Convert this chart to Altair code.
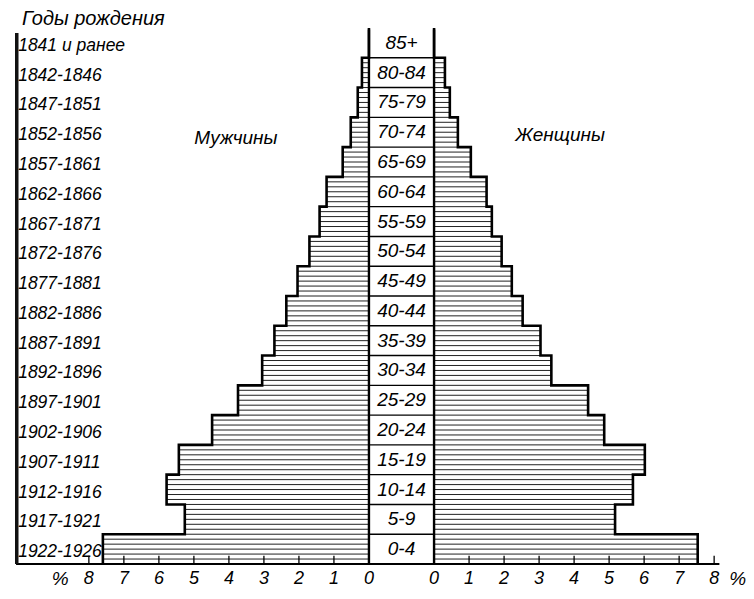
import altair as alt
import pandas as pd

# ---- data ----
ages = ["0-4", "5-9", "10-14", "15-19", "20-24", "25-29", "30-34", "35-39", "40-44",
        "45-49", "50-54", "55-59", "60-64", "65-69", "70-74", "75-79", "80-84", "85+"]
birth_years = ["1922-1926", "1917-1921", "1912-1916", "1907-1911", "1902-1906",
               "1897-1901", "1892-1896", "1887-1891", "1882-1886", "1877-1881",
               "1872-1876", "1867-1871", "1862-1866", "1857-1861", "1852-1856",
               "1847-1851", "1842-1846", "1841 и ранее"]
male = [7.60, 5.26, 5.78, 5.43, 4.48, 3.74, 3.05, 2.70, 2.36, 2.04, 1.70, 1.41,
        1.21, 0.75, 0.52, 0.32, 0.20, 0.0]
female = [7.53, 5.17, 5.68, 6.02, 4.86, 4.40, 3.35, 3.04, 2.53, 2.22, 1.93, 1.65,
          1.50, 1.05, 0.68, 0.45, 0.31, 0.0]
tick_values = [0, 1, 2, 3, 4, 5, 6, 7, 8]
title_text = "Годы рождения"
male_label = "Мужчины"
female_label = "Женщины"

# ---- layout constants ----
GAP = 0.93          # half-width of the central age column, in % units
XMIN, XMAX = -11.04, 9.84
N = len(ages)
FONT = "Liberation Sans"
HATCH_PER_ROW = 6
LABEL_Y = -0.5

xs = alt.Scale(domain=[XMIN, XMAX], nice=False, zero=False)
ys = alt.Scale(domain=[0, N], nice=False, zero=False)

rows = pd.DataFrame({"i": list(range(N)), "age": ages, "birth": birth_years,
                     "male": male, "female": female})
rows["yc"] = rows["i"] + 0.5
rows["xc"] = 0.0
rows["xb"] = XMIN + 0.09
rows["xl"] = -GAP
rows["xr"] = GAP

hatch = []
outline = []
for side, vals, sign in (("m", male, -1), ("f", female, 1)):
    o = 0
    for i, v in enumerate(vals):
        if v > 0:
            for k in range(HATCH_PER_ROW):
                hatch.append({"x": sign * GAP, "x2": sign * (GAP + v),
                              "y": i + k / HATCH_PER_ROW})
        outline.append({"side": side, "o": o, "x": sign * (GAP + v), "y": i}); o += 1
        outline.append({"side": side, "o": o, "x": sign * (GAP + v), "y": i + 1}); o += 1
hatch = pd.DataFrame(hatch)
outline = pd.DataFrame(outline)

ticks = pd.DataFrame(
    [{"x": s * (GAP + t), "lab": str(t), "y0": 0.0, "y1": 0.28, "yl": LABEL_Y}
     for s in (-1, 1) for t in tick_values]
)
tick_marks = ticks[ticks["lab"] != "0"]

X = lambda f: alt.X(f, scale=xs, axis=None)
Y = lambda f: alt.Y(f, scale=ys, axis=None)

hatch_layer = alt.Chart(hatch).mark_rule(color="#222", strokeWidth=1).encode(
    x=X("x:Q"), x2="x2:Q", y=Y("y:Q"))

outline_layer = alt.Chart(outline).mark_line(
    color="black", strokeWidth=2.6, strokeJoin="miter").encode(
    x=X("x:Q"), y=Y("y:Q"), detail="side:N", order="o:Q")

center_v = alt.Chart(pd.DataFrame({"x": [-GAP, GAP], "y0": [0.0, 0.0],
                                   "y1": [N - 0.05, N - 0.05]})).mark_rule(
    color="black", strokeWidth=2.4).encode(
    x=X("x:Q"), y=Y("y0:Q"), y2="y1:Q")

sep = alt.Chart(rows[rows["i"] > 0]).mark_rule(color="black", strokeWidth=1.4).encode(
    x=X("xl:Q"), x2="xr:Q", y=Y("i:Q"))

baseline = alt.Chart(pd.DataFrame({"a": [XMIN + 0.03], "b": [GAP + 8.15],
                                   "y": [0.0]})).mark_rule(
    color="black", strokeWidth=2).encode(
    x=X("a:Q"), x2="b:Q", y=Y("y:Q"))

left_bar = alt.Chart(pd.DataFrame({"a": [XMIN + 0.05], "y0": [0.0],
                                   "y1": [N - 0.17]})).mark_rule(
    color="#111", strokeWidth=3.5).encode(
    x=X("a:Q"), y=Y("y0:Q"), y2="y1:Q")

tick_layer = alt.Chart(tick_marks).mark_rule(color="black", strokeWidth=1.3).encode(
    x=X("x:Q"), y=Y("y0:Q"), y2="y1:Q")

tick_labels = alt.Chart(ticks).mark_text(
    font=FONT, fontStyle="italic", fontSize=18, baseline="middle", color="black").encode(
    x=X("x:Q"), y=Y("yl:Q"), text="lab:N")

pct = alt.Chart(pd.DataFrame({"x": [-9.75, 9.6], "y": [LABEL_Y, LABEL_Y],
                              "t": ["%", "%"]})).mark_text(
    font=FONT, fontStyle="italic", fontSize=19, baseline="middle", color="black").encode(
    x=X("x:Q"), y=Y("y:Q"), text="t:N")

age_labels = alt.Chart(rows).mark_text(
    font=FONT, fontStyle="italic", fontSize=19, baseline="middle", color="black").encode(
    x=X("xc:Q"), y=Y("yc:Q"), text="age:N")

birth_labels = alt.Chart(rows).mark_text(
    font=FONT, fontStyle="italic", fontSize=17.5, baseline="middle", align="left",
    dy=3, color="black").encode(
    x=X("xb:Q"), y=Y("yc:Q"), text="birth:N")

title = alt.Chart(pd.DataFrame({"x": [XMIN + 0.2], "y": [N + 0.3],
                                "t": [title_text]})).mark_text(
    font=FONT, fontStyle="italic", fontSize=20, baseline="middle", align="left",
    color="black").encode(
    x=X("x:Q"), y=Y("y:Q"), text="t:N")

sex_labels = alt.Chart(pd.DataFrame({"x": [-4.73, 4.53], "y": [14.3, 14.4],
                                     "t": [male_label, female_label]})).mark_text(
    font=FONT, fontStyle="italic", fontSize=19, baseline="middle", color="black").encode(
    x=X("x:Q"), y=Y("y:Q"), text="t:N")

chart = alt.layer(
    hatch_layer, sep, outline_layer, center_v, baseline, left_bar, tick_layer,
    tick_labels, pct, age_labels, birth_labels, title, sex_labels
).properties(
    width=731, height=536,
    autosize=alt.AutoSizeParams(type="none"),
    padding={"left": 7, "top": 20, "right": 0, "bottom": 26},
    background="white",
).configure_view(stroke=None)

chart.save("out.html", embed_options={"renderer": "svg", "actions": False})
